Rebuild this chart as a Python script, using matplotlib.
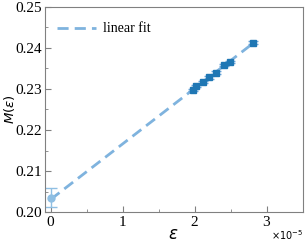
import numpy as np
import matplotlib.pyplot as plt
from matplotlib.ticker import ScalarFormatter, MultipleLocator

# data
eps = np.array([1.97, 2.02, 2.12, 2.20, 2.30, 2.41, 2.49, 2.81]) * 1e-5
M = np.array([0.2298, 0.2307, 0.2317, 0.2328, 0.2340, 0.2359, 0.2366, 0.2413])
M_err = np.array([0.0003, 0.0003, 0.0003, 0.0003, 0.0003, 0.0003, 0.0003, 0.0003])
eps0 = [0.0]
M0 = [0.2035]
M0_err = [0.0023]

plt.rcParams['font.family'] = 'Liberation Serif'
plt.rcParams['mathtext.fontset'] = 'dejavusans'

fig = plt.figure(figsize=(3.05, 2.46), dpi=100)
ax = fig.add_axes([0.146, 0.138, 0.847, 0.834])

# linear fit through the data, extrapolated to zero
coef = np.polyfit(eps, M, 1)
xx = np.linspace(0, eps.max(), 50)
ax.plot(xx, np.polyval(coef, xx), '--', color='#7fb3de', lw=2, dashes=(4, 2.2),
        label='linear fit')

ax.errorbar(eps, M, yerr=M_err, fmt='s', color='#1f77b4', ms=4.5,
            ecolor='#6fa8dc', capsize=3.5, elinewidth=1)
ax.errorbar(eps0, M0, yerr=M0_err, fmt='o', color='#8fbfe3', ms=5,
            ecolor='#8fbfe3', capsize=4, elinewidth=1)

ax.set_xlim(-0.085e-5, 3.5e-5)
ax.set_ylim(0.20, 0.25)
ax.xaxis.set_major_locator(MultipleLocator(1e-5))
ax.xaxis.set_minor_locator(MultipleLocator(0.5e-5))
ax.yaxis.set_major_locator(MultipleLocator(0.01))
ax.yaxis.set_minor_locator(MultipleLocator(0.005))
fmt = ScalarFormatter(useMathText=True)
fmt.set_powerlimits((-3, 3))
ax.xaxis.set_major_formatter(fmt)
ax.yaxis.set_major_formatter(plt.FormatStrFormatter('%.2f'))
ax.xaxis.get_offset_text().set_visible(False)
ax.text(1.0, -0.08, r'$\times10^{-5}$', transform=ax.transAxes, ha='right',
        va='top', fontsize=7, family='DejaVu Sans')

ax.tick_params(direction='in', labelsize=11, color='gray', length=4, pad=2)
ax.tick_params(which='minor', direction='in', length=2, color='gray')
for s in ax.spines.values():
    s.set_color('gray')

ax.set_xlabel(r'$\varepsilon$', fontsize=12, labelpad=-1)
ax.set_ylabel(r'$M(\varepsilon)$', fontsize=9.5)
ax.yaxis.set_label_coords(-0.105, 0.5)
ax.legend(loc='upper left', frameon=False, fontsize=10, handlelength=2.8,
          handletextpad=0.5, bbox_to_anchor=(0.0, 0.985))

plt.savefig('out.png', dpi=100)
